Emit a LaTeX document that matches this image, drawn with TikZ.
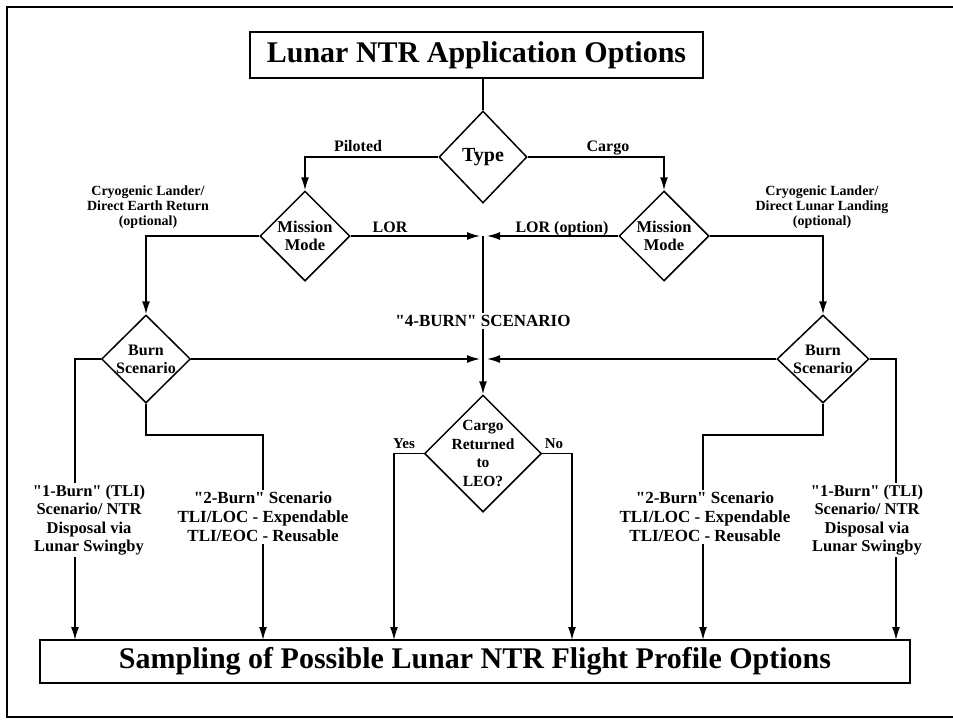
\documentclass[tikz,border=0pt]{standalone}
\usepackage{fontspec}
\setmainfont{Liberation Serif}[Ligatures=TeXOff]
\usetikzlibrary{shapes.geometric,arrows.meta}
\begin{document}
\begin{tikzpicture}[x=1pt,y=-1pt,
  box/.style={draw,line width=2pt,inner sep=0,rectangle},
  dia/.style={draw,diamond,line width=1.5pt,inner sep=0},
  conn/.style={line width=1.5pt},
  arr/.style={line width=1.5pt,-{Latex[length=13pt,width=8pt]}},
  fz/.style n args={2}{font=\bfseries\fontsize{#1}{#2}\selectfont},
  txt/.style={align=center,inner sep=0pt},
  wtxt/.style={align=center,inner sep=2pt,fill=white},
]
\useasboundingbox (0,0) rectangle (953,721);
% outer frame
\draw[line width=2.5pt] (960,7) -- (7,7) -- (7,717) -- (960,717);

% boxes
\node[box,minimum width=453pt,minimum height=46pt,fz={30}{32}] (title) at (476.5,55) {Lunar NTR Application Options};
\node[box,minimum width=870pt,minimum height=43pt,fz={30}{32}] (bot) at (475,661.5) {Sampling of Possible Lunar NTR Flight Profile Options};

% diamonds
\node[dia,minimum width=88pt,minimum height=92pt] (type) at (483,157) {};
\node[txt,fz={20}{22}] (typet) at (type) {Type};
\node[dia,minimum width=90pt,minimum height=90pt] (mm1) at (305,236) {};
\node[txt,fz={16.5}{18}] (mm1t) at (mm1) {Mission\\Mode};
\node[dia,minimum width=90pt,minimum height=90pt] (mm2) at (664,236) {};
\node[txt,fz={16.5}{18}] (mm2t) at (mm2) {Mission\\Mode};
\node[dia,minimum width=89pt,minimum height=88pt] (bs1) at (146,359) {};
\node[txt,fz={16}{18}] (bs1t) at (bs1) {Burn\\Scenario};
\node[dia,minimum width=92pt,minimum height=88pt] (bs2) at (823,359) {};
\node[txt,fz={16}{18}] (bs2t) at (bs2) {Burn\\Scenario};
\node[dia,minimum width=117pt,minimum height=117pt] (cargo) at (483,453.5) {};
\node[txt,fz={15.5}{18.5}] (cargot) at (cargo) {Cargo\\Returned\\to\\LEO?};

% junction coordinates
\coordinate (j1) at (483,236);
\coordinate (j2) at (483,359);
\coordinate (e1) at (75,640);
\coordinate (e2) at (263,640);
\coordinate (e3) at (394,640);
\coordinate (e4) at (572,640);
\coordinate (e5) at (703,640);
\coordinate (e6) at (896,640);
\coordinate (k1) at (146,435);
\coordinate (k2) at (823,435);

% connectors
\draw[conn] (type.north |- title.south) -- (type.north);
\draw[arr] (type.west) -| (mm1.north);
\draw[arr] (type.east) -| (mm2.north);
\draw[arr,shorten >=3pt] (mm1.east) -- (j1);
\draw[arr,shorten >=4pt] (mm2.west) -- (j1);
\draw[arr] (mm1.west) -| (bs1.north);
\draw[arr] (mm2.east) -| (bs2.north);
\draw[arr] (j1) -- (cargo.north);
\draw[arr,shorten >=3pt] (bs1.east) -- (j2);
\draw[arr,shorten >=4pt] (bs2.west) -- (j2);
\draw[arr] (bs1.west) -| (e1);
\draw[arr] (bs1.south) -- (k1) -| (e2);
\draw[arr] (cargo.west) -| (e3);
\draw[arr] (cargo.east) -| (e4);
\draw[arr] (bs2.south) -- (k2) -| (e5);
\draw[arr] (bs2.east) -| (e6);

% labels
\node[txt,fz={16}{18},anchor=base] (lpil) at (358,151) {Piloted};
\node[txt,fz={16}{18},anchor=base] (lcar) at (608,151) {Cargo};
\node[txt,fz={16}{18},anchor=base] (llor1) at (390,232) {LOR};
\node[txt,fz={16}{18},anchor=base] (llor2) at (562,232) {LOR (option)};
\node[txt,fz={14}{15}] (lcry1) at (148,207) {Cryogenic Lander/\\Direct Earth Return\\(optional)};
\node[txt,fz={14}{15}] (lcry2) at (822,207) {Cryogenic Lander/\\Direct Lunar Landing\\(optional)};
\node[wtxt,fz={17}{19}] (l4b) at (483,321) {"4-BURN" SCENARIO};
\node[txt,fz={15}{17},anchor=base] (lyes) at (404,448) {Yes};
\node[txt,fz={15}{17},anchor=base] (lno) at (554,448) {No};
\node[wtxt,fz={16.5}{18.5}] (l1b1) at (89,520) {"1-Burn" (TLI)\\Scenario/ NTR\\Disposal via\\Lunar Swingby};
\node[wtxt,fz={17}{19}] (l2b1) at (263,517) {"2-Burn" Scenario\\TLI/LOC - Expendable\\TLI/EOC - Reusable};
\node[wtxt,fz={17}{19}] (l2b2) at (705,517) {"2-Burn" Scenario\\TLI/LOC - Expendable\\TLI/EOC - Reusable};
\node[wtxt,fz={16.5}{18.5}] (l1b2) at (867,520) {"1-Burn" (TLI)\\Scenario/ NTR\\Disposal via\\Lunar Swingby};
\end{tikzpicture}
\end{document}
